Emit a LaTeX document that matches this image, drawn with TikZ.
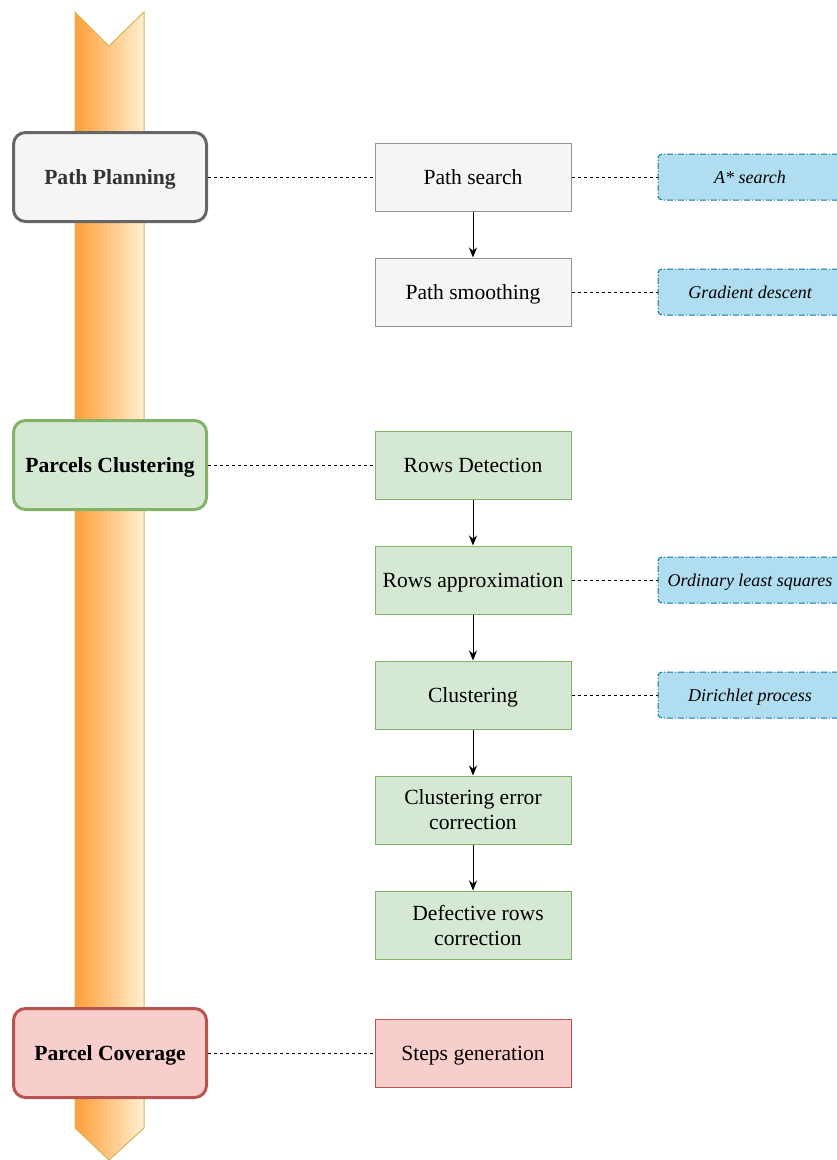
\documentclass[tikz,border=0pt]{standalone}
\usepackage{fontspec}
\setmainfont{Liberation Serif}
\usetikzlibrary{arrows.meta}
\definecolor{barleft}{HTML}{FF9E3A}
\definecolor{barright}{HTML}{FFF0CF}
\definecolor{barline}{HTML}{D6B656}
\definecolor{grayline}{HTML}{666666}
\definecolor{grayfill}{HTML}{F5F5F5}
\definecolor{grayink}{HTML}{333333}
\definecolor{greenline}{HTML}{82B366}
\definecolor{greenfill}{HTML}{D5E8D4}
\definecolor{redline}{HTML}{B85450}
\definecolor{redfill}{HTML}{F8CECC}
\definecolor{blueline}{HTML}{10739E}
\definecolor{bluefill}{HTML}{B1DDF0}

\begin{document}
\begin{tikzpicture}[
  x=0.75pt,
  y=-0.75pt,
  stage/.style={draw, line width=2.25pt, rounded corners=9pt,
    minimum width=144.75pt, minimum height=66.75pt,
    text height=14.6pt, text depth=3.2pt,
    font=\fontsize{16.2}{18.75}\selectfont\bfseries},
  task/.style={draw, line width=0.75pt, minimum width=147pt,
    minimum height=51pt, align=center,
    text height=14.6pt, text depth=3.2pt,
    font=\fontsize{16.2}{18.75}\selectfont},
  twolines/.style={text height=, text depth=},
  method/.style={draw=blueline, fill=bluefill, line width=0.75pt,
    rounded corners=3pt, minimum width=138pt, minimum height=34.5pt,
    text height=12.2pt, text depth=2.7pt,
    dash pattern=on 4.5pt off 1.5pt on 0.75pt off 1.5pt,
    font=\fontsize{13.5}{16}\selectfont\itshape},
  link/.style={line width=0.75pt, dash pattern=on 2.25pt off 2.25pt},
  flow/.style={line width=0.75pt, -{Stealth[length=7.5pt,width=6pt]}}
]
  \clip (0,0) rectangle (837,1160);

  \shadedraw[left color=barleft, right color=barright, draw=barline, line width=0.75pt]
    (75,12) -- (109,46) -- (144,12) -- (144,1128) -- (109,1160) -- (75,1128) -- cycle;

  \node[stage, draw=grayline, fill=grayfill, text=grayink] (pp) at (110,177) {Path Planning};
  \node[stage, draw=greenline, fill=greenfill] (pc) at (110,465) {Parcels Clustering};
  \node[stage, draw=redline, fill=redfill] (cov) at (110,1053) {Parcel Coverage};

  \node[task, draw=grayline!70, fill=grayfill] (search) at (473,177) {Path search};
  \node[task, draw=grayline!70, fill=grayfill] (smooth) at (473,292) {Path smoothing};

  \node[task, draw=greenline, fill=greenfill] (rowsdet) at (473,465) {Rows Detection};
  \node[task, draw=greenline, fill=greenfill] (rowsapprox) at (473,580) {Rows approximation};
  \node[task, draw=greenline, fill=greenfill] (clust) at (473,695) {Clustering};
  \node[task, twolines, draw=greenline, fill=greenfill] (clusterr) at (473,810) {Clustering error\\correction};
  \node[task, twolines, draw=greenline, fill=greenfill] (defect) at (473,925)
    {\hspace*{7.5pt}Defective rows\\\hspace*{7.5pt}correction};

  \node[task, draw=redline, fill=redfill] (steps) at (473,1053) {Steps generation};

  \node[method] (astar) at (750,177) {A* search};
  \node[method] (graddesc) at (750,292) {Gradient descent};
  \node[method] (ols) at (750,580) {Ordinary least squares};
  \node[method] (dirichlet) at (750,695) {Dirichlet process};

  \draw[link] (pp) -- (search);
  \draw[link] (pc) -- (rowsdet);
  \draw[link] (cov) -- (steps);
  \draw[link] (search) -- (astar);
  \draw[link] (smooth) -- (graddesc);
  \draw[link] (rowsapprox) -- (ols);
  \draw[link] (clust) -- (dirichlet);

  \draw[flow] (search) -- (smooth);
  \draw[flow] (rowsdet) -- (rowsapprox);
  \draw[flow] (rowsapprox) -- (clust);
  \draw[flow] (clust) -- (clusterr);
  \draw[flow] (clusterr) -- (defect);
\end{tikzpicture}
\end{document}
